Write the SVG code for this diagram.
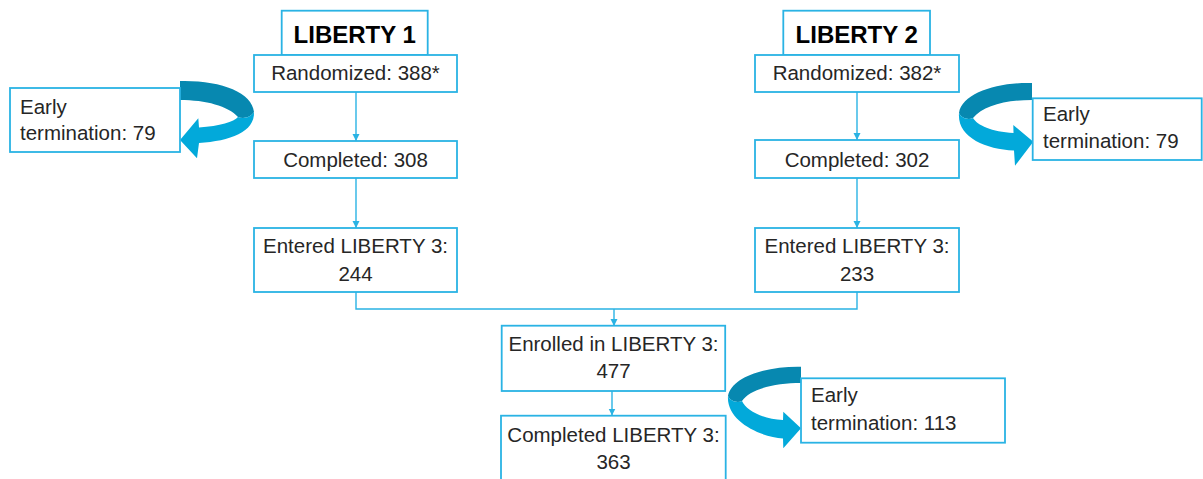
<svg xmlns="http://www.w3.org/2000/svg" width="1203" height="479" viewBox="0 0 1203 479">
<style>
.box{fill:#fff;stroke:#2AB3E4;stroke-width:1.8}
.t{font-family:"Liberation Sans",Arial,sans-serif;font-size:20.5px;fill:#262626}
.c{text-anchor:middle}
.title{font-family:"Liberation Sans",Arial,sans-serif;font-size:24px;font-weight:bold;fill:#000;text-anchor:middle}
.ln{fill:none;stroke:#2AB3E4;stroke-width:1.4}
.dk{fill:#0788B0}
.lt{fill:#02A9DA}
</style>
<defs>
<marker id="ah" markerUnits="userSpaceOnUse" markerWidth="8" markerHeight="8" refX="7" refY="3.5" orient="auto">
<path d="M0,0 L7,3.5 L0,7 z" fill="#2AB3E4"/>
</marker>
</defs>
<rect width="1203" height="479" fill="#fff"/>

<g id="connectors">
<path class="ln" d="M356,92 V141" marker-end="url(#ah)"/>
<path class="ln" d="M356,178 V228" marker-end="url(#ah)"/>
<path class="ln" d="M857,92 V140" marker-end="url(#ah)"/>
<path class="ln" d="M857,178 V228" marker-end="url(#ah)"/>
<path class="ln" d="M356,292 V309 H857 V292"/>
<path class="ln" d="M614,309 V326" marker-end="url(#ah)"/>
<path class="ln" d="M612,391 V415.5" marker-end="url(#ah)"/>
</g>

<g id="curved-arrow-1">
<path class="dk" d="M180,81 C220,80 252,92 254,112 C250,118 243,119 238,117 C228,106 206,100 180,100 Z"/>
<path class="lt" d="M254,112 C255,132 230,141 199,143 L197,158.3 L180,140 L198.3,118.3 L199,127.5 C220,126 234,122 238,117 C243,119 250,118 254,112 Z"/>
</g>
<g id="curved-arrow-2">
<path class="dk" d="M1032,83 C998,82 962,93 959,113 C962,119 969,120 973,118 C983,106 1005,100 1032,100 Z"/>
<path class="lt" d="M959,113 C957,137 985,149 1014,150.5 L1015,165.7 L1033.3,141.7 L1013.3,125 L1013.5,133 C992,132 977,125 973,118 C969,120 962,119 959,113 Z"/>
</g>
<g id="curved-arrow-3">
<path class="dk" d="M801,366.7 C768,366 732,376 728,396 C731,402 738,403 742,401 C750,389 775,383 801,383 Z"/>
<path class="lt" d="M728,396 C726,421 760,437 783,438.5 L783.3,448.3 L801,428.3 L783.3,411.7 L783,420 C762,419 746,410 742,401 C738,403 731,402 728,396 Z"/>
</g>

<g id="liberty1-title">
<rect class="box" x="281.7" y="10.7" width="146" height="44.3"/>
<text class="title" x="354.7" y="43">LIBERTY 1</text>
</g>
<g id="liberty1-randomized">
<rect class="box" x="254" y="55" width="203" height="37"/>
<text class="t c" x="355.5" y="80">Randomized: 388*</text>
</g>
<g id="liberty1-early">
<rect class="box" x="10" y="88" width="170" height="64"/>
<text class="t" x="20" y="114">Early</text>
<text class="t" x="20" y="140">termination: 79</text>
</g>
<g id="liberty1-completed">
<rect class="box" x="254" y="141" width="203" height="37"/>
<text class="t c" x="355.5" y="167">Completed: 308</text>
</g>
<g id="liberty1-entered">
<rect class="box" x="254" y="228" width="203" height="64"/>
<text class="t c" x="355.5" y="253">Entered LIBERTY 3:</text>
<text class="t c" x="355.5" y="280.5">244</text>
</g>

<g id="liberty2-title">
<rect class="box" x="783.3" y="10.7" width="146.7" height="44.3"/>
<text class="title" x="856.7" y="43">LIBERTY 2</text>
</g>
<g id="liberty2-randomized">
<rect class="box" x="755" y="55" width="204" height="37"/>
<text class="t c" x="857" y="80">Randomized: 382*</text>
</g>
<g id="liberty2-early">
<rect class="box" x="1032.7" y="98.3" width="169" height="61.7"/>
<text class="t" x="1043" y="121">Early</text>
<text class="t" x="1043" y="148">termination: 79</text>
</g>
<g id="liberty2-completed">
<rect class="box" x="755" y="140" width="204" height="38"/>
<text class="t c" x="857" y="166.5">Completed: 302</text>
</g>
<g id="liberty2-entered">
<rect class="box" x="755" y="228" width="204" height="64"/>
<text class="t c" x="857" y="253">Entered LIBERTY 3:</text>
<text class="t c" x="857" y="280.5">233</text>
</g>

<g id="liberty3-enrolled">
<rect class="box" x="501.7" y="325.7" width="223.5" height="65.3"/>
<text class="t c" x="613.5" y="351">Enrolled in LIBERTY 3:</text>
<text class="t c" x="613.5" y="377.5">477</text>
</g>
<g id="liberty3-completed">
<rect class="box" x="501" y="415.7" width="224.7" height="75"/>
<text class="t c" x="613.5" y="441.7">Completed LIBERTY 3:</text>
<text class="t c" x="613.5" y="469">363</text>
</g>
<g id="liberty3-early">
<rect class="box" x="801" y="378.3" width="204" height="64.4"/>
<text class="t" x="811" y="401.7">Early</text>
<text class="t" x="811" y="430">termination: 113</text>
</g>
</svg>
